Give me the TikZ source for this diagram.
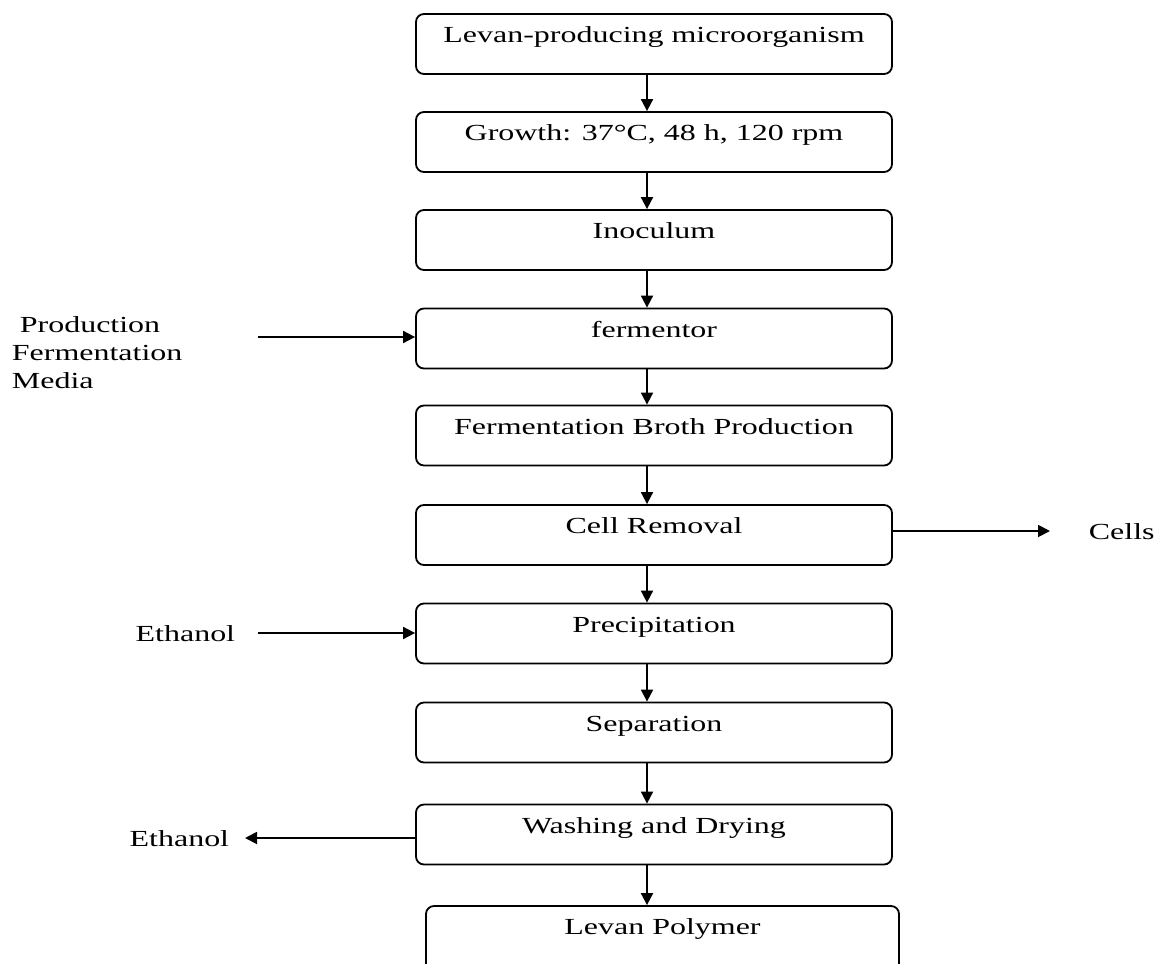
\documentclass[tikz,border=0pt]{standalone}
\usepackage{fontspec}
\setmainfont{Liberation Serif}[FakeStretch=1.39]
\usetikzlibrary{arrows.meta}

\begin{document}
\begin{tikzpicture}[x=0.5pt, y=-0.5pt, line width=0.9pt,
    stepbox/.style={draw, rounded corners=4pt, minimum width=238pt, minimum height=30pt,
      inner sep=0pt, text height=8pt, text depth=9.5pt, font=\fontsize{11.5}{14}\selectfont},
    sidetext/.style={inner sep=0pt, font=\fontsize{11.5}{14}\selectfont},
    flow/.style={-{Triangle[length=6pt, width=6pt]}}]
  \useasboundingbox (0,0) rectangle (1159,963);
  % process steps
  \node[stepbox] (b1) at (654,44) {Levan-producing microorganism};
  \node[stepbox] (b2) at (654,142) {Growth: 37°C, 48 h, 120 rpm};
  \node[stepbox] (b3) at (654,240) {Inoculum};
  \node[stepbox] (b4) at (654,338.5) {fermentor};
  \node[stepbox] (b5) at (654,435.5) {Fermentation Broth Production};
  \node[stepbox] (b6) at (654,535) {Cell Removal};
  \node[stepbox] (b7) at (654,633.5) {Precipitation};
  \node[stepbox] (b8) at (654,732.5) {Separation};
  \node[stepbox] (b9) at (654,834.5) {Washing and Drying};
  \node[stepbox, minimum width=236.5pt, minimum height=35pt, text depth=14.5pt] (b10) at (662.5,941) {Levan Polymer};
  % inputs and outputs
  \node[sidetext, align=left, anchor=west] (media) at (11,353) {~Production\\Fermentation\\Media};
  \node[sidetext, anchor=west] (cells) at (1088,532) {Cells};
  \node[sidetext, anchor=east] (ethanolin) at (236,634) {Ethanol};
  \node[sidetext, anchor=east] (ethanolout) at (230,839) {Ethanol};
  \coordinate (ax) at (647,0);
  \coordinate (mediaend) at (258,337);
  \coordinate (cellsend) at (1050,531);
  \coordinate (ethin) at (258,633);
  \coordinate (ethout) at (245,838);
  % connectors
  \foreach \i/\j in {b1/b2,b2/b3,b3/b4,b4/b5,b5/b6,b6/b7,b7/b8,b8/b9,b9/b10}
    \draw[flow] (\i.south -| ax) -- (\j.north -| ax);
  \draw[flow] (mediaend) -- (mediaend -| b4.west);
  \draw[flow] (b6.east |- cellsend) -- (cellsend);
  \draw[flow] (ethin) -- (ethin -| b7.west);
  \draw[flow] (ethout -| b9.west) -- (ethout);
\end{tikzpicture}
\end{document}
